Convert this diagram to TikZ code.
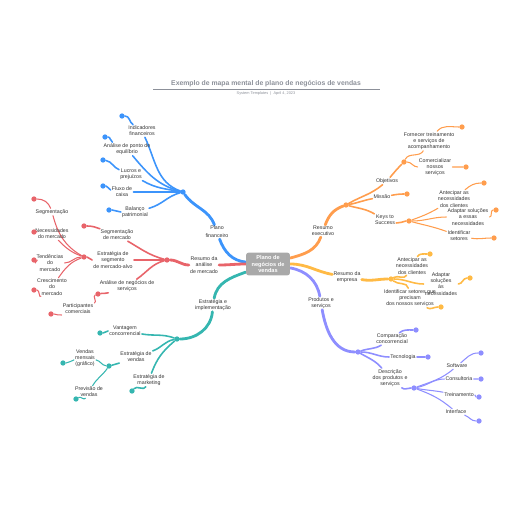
\documentclass[tikz,border=0pt]{standalone}
\usepackage{fontspec}
\setmainfont{Liberation Sans}
\usetikzlibrary{backgrounds}

\definecolor{mmblue}{HTML}{3C94FB}
\definecolor{mmred}{HTML}{E8646A}
\definecolor{mmteal}{HTML}{35B6B0}
\definecolor{mmorange}{HTML}{FF9D4D}
\definecolor{mmyellow}{HTML}{FFBA45}
\definecolor{mmpurple}{HTML}{8E8EFF}
\definecolor{mmgray}{HTML}{A9A9A9}
\definecolor{titlegray}{HTML}{8C9099}
\definecolor{textgray}{HTML}{333333}

\begin{document}
\begin{tikzpicture}[
    x=0.02cm, y=-0.02cm,
    central/.style={rectangle, rounded corners=1.5pt, fill=mmgray, text=white, font=\fontsize{3.2}{3.8}\selectfont\bfseries, align=center, minimum width=25pt, minimum height=13pt, inner sep=0.5pt},
    topic/.style={align=center, inner sep=0.5pt, text=textgray, font=\fontsize{3}{3.5}\selectfont},
    hub/.style={circle, fill=#1, inner sep=0pt, minimum size=3pt},
    trunk/.style={line width=1.6pt, line cap=round, draw=#1},
    limb/.style={line width=0.9pt, line cap=round, draw=#1},
    twig/.style={line width=0.6pt, line cap=round, draw=#1},
]
\useasboundingbox (0,0) rectangle (516,516);

    % title
    \node (titulo) at (266,84) [text=titlegray, font=\fontsize{3.9}{4.6}\selectfont\bfseries] {Exemplo de mapa mental de plano de negócios de vendas};
    \draw [titlegray, line width=0.4pt] (153,89) -- (380,89);
    \node (subtitulo) at (266,94) [text=titlegray, font=\fontsize{2.2}{2.6}\selectfont] {System Templates \ | \ April 4, 2023};

    % center
    \node (plano) at (268,264) [central] {Plano de\\negócios de\\vendas};

    % plano financeiro
    \node (pf) at (217,232) [topic] {Plano\\[1pt]financeiro};
    \node (pf_hub) at (183,192) [hub=mmblue] {};
    \node (ind_fin) at (142,131) [topic] {Indicadores\\financeiros};
    \node (d_ind_fin) at (122,116) [hub=mmblue] {};
    \node (eq) at (127,149) [topic] {Análise de ponto de\\equilíbrio};
    \node (d_eq) at (105,137) [hub=mmblue] {};
    \node (lp) at (131,174) [topic] {Lucros e\\prejuízos};
    \node (d_lp) at (103,160) [hub=mmblue] {};
    \node (fc) at (122,192) [topic] {Fluxo de\\caixa};
    \node (d_fc) at (103,186) [hub=mmblue] {};
    \node (bp) at (135,212) [topic] {Balanço\\patrimonial};
    \node (d_bp) at (109,210) [hub=mmblue] {};

    % resumo da analise de mercado
    \node (ma) at (204,265) [topic] {Resumo da\\análise\\de mercado};
    \node (ma_hub) at (167,260) [hub=mmred] {};
    \node (seg_merc) at (117,235) [topic] {Segmentação\\de mercado};
    \node (d_seg_merc) at (84,226) [hub=mmred] {};
    \node (alvo) at (113,260) [topic] {Estratégia de\\segmento\\de mercado-alvo};
    \node (alvo_hub) at (84,257) [hub=mmred] {};
    \node (segm) at (52,212) [topic] {Segmentação};
    \node (d_segm) at (34,199) [hub=mmred] {};
    \node (nec) at (52,234) [topic] {Necessidades\\do mercado};
    \node (d_nec) at (34,232) [hub=mmred] {};
    \node (tend) at (50,263) [topic] {Tendências\\do\\mercado};
    \node (d_tend) at (34,260) [hub=mmred] {};
    \node (cresc) at (52,287) [topic] {Crescimento\\do\\mercado};
    \node (d_cresc) at (34,290) [hub=mmred] {};
    \node (serv) at (127,286) [topic] {Análise de negócios de\\serviços};
    \node (serv_hub) at (98,294) [hub=mmred] {};
    \node (part) at (78,309) [topic] {Participantes\\comerciais};
    \node (d_part) at (51,314) [hub=mmred] {};

    % estrategia e implementacao
    \node (ei) at (213,305) [topic] {Estratégia e\\implementação};
    \node (ei_hub) at (177,339) [hub=mmteal] {};
    \node (vant) at (125,331) [topic] {Vantagem\\concorrencial};
    \node (d_vant) at (100,333) [hub=mmteal] {};
    \node (ev) at (136,357) [topic] {Estratégia de\\vendas};
    \node (ev_hub) at (109,366) [hub=mmteal] {};
    \node (vm) at (85,358) [topic] {Vendas\\mensais\\(gráfico)};
    \node (d_vm) at (63,363) [hub=mmteal] {};
    \node (prev) at (89,392) [topic] {Previsão de\\vendas};
    \node (d_prev) at (76,399) [hub=mmteal] {};
    \node (mkt) at (149,380) [topic] {Estratégia de\\marketing};
    \node (d_mkt) at (132,391) [hub=mmteal] {};

    % resumo executivo
    \node (re) at (323,231) [topic] {Resumo\\executivo};
    \node (re_hub) at (346,205) [hub=mmorange] {};
    \node (obj) at (387,181) [topic] {Objetivos};
    \node (obj_hub) at (404,162) [hub=mmorange] {};
    \node (forn) at (429,141) [topic] {Fornecer treinamento\\e serviços de\\acompanhamento};
    \node (d_forn) at (462,127) [hub=mmorange] {};
    \node (com) at (435,167) [topic] {Comercializar\\nossos\\serviços};
    \node (d_com) at (466,167) [hub=mmorange] {};
    \node (missao) at (382,197) [topic] {Missão};
    \node (d_missao) at (407,194) [hub=mmorange] {};
    \node (kts) at (385,220) [topic] {Keys to\\Success};
    \node (kts_hub) at (409,221) [hub=mmorange] {};
    \node (ant) at (454,199) [topic] {Antecipar as\\necessidades\\dos clientes};
    \node (d_ant) at (484,183) [hub=mmorange] {};
    \node (adap) at (468,217) [topic] {Adaptar soluções\\a essas\\necessidades};
    \node (d_adap) at (496,210) [hub=mmorange] {};
    \node (ident) at (459,236) [topic] {Identificar\\setores};
    \node (d_ident) at (494,238) [hub=mmorange] {};

    % resumo da empresa
    \node (emp) at (347,277) [topic] {Resumo da\\empresa};
    \node (emp_hub) at (391,279) [hub=mmyellow] {};
    \node (ant2) at (412,266) [topic] {Antecipar as\\necessidades\\dos clientes};
    \node (d_ant2) at (430,254) [hub=mmyellow] {};
    \node (adap2) at (441,284) [topic] {Adaptar\\soluções\\às\\necessidades};
    \node (d_adap2) at (470,278) [hub=mmyellow] {};
    \node (ident2) at (410,298) [topic] {Identificar setores que\\precisam\\dos nossos serviços};
    \node (d_ident2) at (441,307) [hub=mmyellow] {};

    % produtos e servicos
    \node (ps) at (321,303) [topic] {Produtos e\\serviços};
    \node (ps_hub) at (358,352) [hub=mmpurple] {};
    \node (comp) at (392,339) [topic] {Comparação\\concorrencial};
    \node (d_comp) at (416,330) [hub=mmpurple] {};
    \node (tec) at (403,357) [topic] {Tecnologia};
    \node (d_tec) at (428,357) [hub=mmpurple] {};
    \node (desc) at (390,378) [topic] {Descrição\\dos produtos e\\serviços};
    \node (desc_hub) at (414,388) [hub=mmpurple] {};
    \node (soft) at (457,366) [topic] {Software};
    \node (d_soft) at (481,353) [hub=mmpurple] {};
    \node (cons) at (459,379) [topic] {Consultoria};
    \node (d_cons) at (481,379) [hub=mmpurple] {};
    \node (trein) at (459,395) [topic] {Treinamento};
    \node (d_trein) at (479,397) [hub=mmpurple] {};
    \node (intf) at (456,412) [topic] {Interface};
    \node (d_intf) at (479,421) [hub=mmpurple] {};

\begin{scope}[on background layer]
    \draw [trunk=mmblue] (plano) to[out=175,in=-70] (pf) to[out=110,in=-55] (pf_hub);
    \draw [limb=mmblue] (pf_hub) to[out=160,in=-65] (ind_fin) to[out=145,in=0] (d_ind_fin);
    \draw [limb=mmblue] (pf_hub) to[out=165,in=-50] (eq) to[out=155,in=0] (d_eq);
    \draw [limb=mmblue] (pf_hub) to[out=170,in=-30] (lp) to[out=160,in=-10] (d_lp);
    \draw [limb=mmblue] (pf_hub) to[out=180,in=0] (fc) to[out=170,in=0] (d_fc);
    \draw [limb=mmblue] (pf_hub) to[out=195,in=15] (bp) to[out=180,in=0] (d_bp);

    \draw [trunk=mmred] (plano) to[out=180,in=0] (ma) to[out=180,in=0] (ma_hub);
    \draw [limb=mmred] (ma_hub) to[out=165,in=-30] (seg_merc) to[out=160,in=0] (d_seg_merc);
    \draw [limb=mmred] (ma_hub) to[out=180,in=0] (alvo) to[out=180,in=0] (alvo_hub);
    \draw [twig=mmred] (alvo_hub) to[out=150,in=-75] (segm) to[out=110,in=0] (d_segm);
    \draw [twig=mmred] (alvo_hub) to[out=160,in=-45] (nec) to[out=170,in=0] (d_nec);
    \draw [twig=mmred] (alvo_hub) to[out=180,in=0] (tend) to[out=180,in=0] (d_tend);
    \draw [twig=mmred] (alvo_hub) to[out=200,in=55] (cresc) to[out=220,in=0] (d_cresc);
    \draw [limb=mmred] (ma_hub) to[out=195,in=35] (serv) to[out=200,in=10] (serv_hub);
    \draw [twig=mmred] (serv_hub) to[out=200,in=20] (part) to[out=200,in=0] (d_part);

    \draw [trunk=mmteal] (plano) to[out=200,in=80] (ei) to[out=-95,in=0] (ei_hub);
    \draw [limb=mmteal] (ei_hub) to[out=160,in=-10] (vant) to[out=180,in=0] (d_vant);
    \draw [limb=mmteal] (ei_hub) to[out=190,in=20] (ev) to[out=200,in=15] (ev_hub);
    \draw [twig=mmteal] (ev_hub) to[out=175,in=-10] (vm) to[out=190,in=0] (d_vm);
    \draw [twig=mmteal] (ev_hub) to[out=235,in=60] (prev) to[out=240,in=30] (d_prev);
    \draw [limb=mmteal] (ei_hub) to[out=220,in=70] (mkt) to[out=245,in=50] (d_mkt);

    \draw [trunk=mmorange] (plano) to[out=15,in=-110] (re) to[out=70,in=200] (re_hub);
    \draw [limb=mmorange] (re_hub) to[out=30,in=-140] (obj) to[out=50,in=-135] (obj_hub);
    \draw [twig=mmorange] (obj_hub) to[out=65,in=-120] (forn) to[out=50,in=180] (d_forn);
    \draw [twig=mmorange] (obj_hub) to[out=0,in=180] (com) to[out=0,in=180] (d_com);
    \draw [limb=mmorange] (re_hub) to[out=10,in=190] (missao) to[out=10,in=180] (d_missao);
    \draw [limb=mmorange] (re_hub) to[out=-15,in=150] (kts) to[out=-15,in=180] (kts_hub);
    \draw [twig=mmorange] (kts_hub) to[out=20,in=-150] (ant) to[out=40,in=180] (d_ant);
    \draw [twig=mmorange] (kts_hub) to[out=0,in=180] (adap) to[out=0,in=180] (d_adap);
    \draw [twig=mmorange] (kts_hub) to[out=-15,in=160] (ident) to[out=-10,in=180] (d_ident);

    \draw [trunk=mmyellow] (plano) to[out=0,in=170] (emp) to[out=-10,in=180] (emp_hub);
    \draw [limb=mmyellow] (emp_hub) to[out=30,in=-120] (ant2) to[out=60,in=180] (d_ant2);
    \draw [limb=mmyellow] (emp_hub) to[out=0,in=180] (adap2) to[out=0,in=180] (d_adap2);
    \draw [limb=mmyellow] (emp_hub) to[out=-40,in=100] (ident2) to[out=-30,in=180] (d_ident2);

    \draw [trunk=mmpurple] (plano) to[out=-10,in=100] (ps) to[out=-80,in=180] (ps_hub);
    \draw [limb=mmpurple] (ps_hub) to[out=20,in=-150] (comp) to[out=40,in=180] (d_comp);
    \draw [limb=mmpurple] (ps_hub) to[out=0,in=180] (tec) to[out=0,in=180] (d_tec);
    \draw [limb=mmpurple] (ps_hub) to[out=-30,in=130] (desc) to[out=-40,in=180] (desc_hub);
    \draw [twig=mmpurple] (desc_hub) to[out=20,in=-140] (soft) to[out=40,in=180] (d_soft);
    \draw [twig=mmpurple] (desc_hub) to[out=10,in=180] (cons) to[out=0,in=180] (d_cons);
    \draw [twig=mmpurple] (desc_hub) to[out=-10,in=170] (trein) to[out=0,in=180] (d_trein);
    \draw [twig=mmpurple] (desc_hub) to[out=-20,in=140] (intf) to[out=-20,in=180] (d_intf);
\end{scope}

\end{tikzpicture}
\end{document}
